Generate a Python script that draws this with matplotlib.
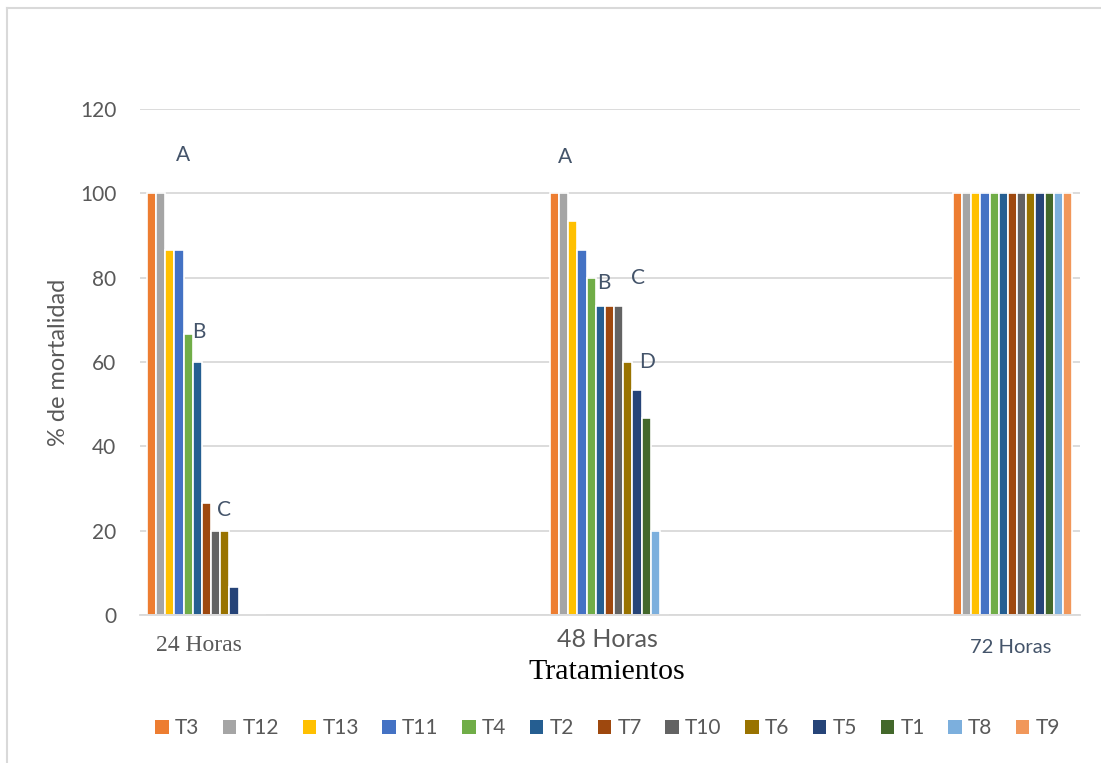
import matplotlib
matplotlib.use("Agg")
import matplotlib.pyplot as plt
from matplotlib.patches import Patch
from matplotlib.lines import Line2D
from matplotlib.transforms import ScaledTranslation
import numpy as np

categories = ["24 Horas", "48 Horas", "72 Horas"]
series = ["T3", "T12", "T13", "T11", "T4", "T2", "T7", "T10", "T6", "T5", "T1", "T8", "T9"]
colors = ["#ED7D31", "#A5A5A5", "#FFC000", "#4472C4", "#70AD47", "#255E91",
          "#9E480E", "#636363", "#997300", "#264478", "#43682B", "#7CAFDD", "#F1975A"]
h24 = [100, 100, 86.67, 86.67, 66.67, 60, 26.67, 20, 20, 6.67, 0, 0, 0]
h48 = [100, 100, 93.33, 86.67, 80, 73.33, 73.33, 73.33, 60, 53.33, 46.67, 20, 0]
h72 = [100] * 13
values = np.array([h24, h48, h72]).T  # series x categories

# significance letters: (category index, x offset in category units, y value, letter)
letters_cat = [0, 0, 0, 1, 1, 1, 1]
letters_dx = [-0.058, -0.019, 0.043, -0.110, -0.014, 0.071, 0.093]
letters_y = [109, 67, 25, 108.6, 78.7, 80, 60]
letters_txt = ["A", "B", "C", "A", "B", "C", "D"]

SANS = ["Lato", "DejaVu Sans"]
SERIF = ["Liberation Serif", "DejaVu Serif"]
GRAY = "#595959"
SLATE = "#44546A"
GRID = "#D9D9D9"

fig = plt.figure(figsize=(11.01, 7.63), dpi=100)
ax = fig.add_axes([140 / 1101, 1 - 615 / 763, (1080 - 140) / 1101, (615 - 109) / 763])

x = np.arange(len(categories))
slot = 9.15 / 403
n = len(series)
for i, (s, c) in enumerate(zip(series, colors)):
    ax.bar(x + (i - (n - 1) / 2) * slot, values[i], width=slot, color=c,
           edgecolor="white", linewidth=1.2, label=s, zorder=2)

ax.set_xlim(-66.5 / 403, 2 + 67.5 / 403)
ax.set_ylim(0, 120)
ax.set_yticks(np.arange(0, 121, 20))
ax.yaxis.grid(True, color=GRID, linewidth=1.3, zorder=0)
ax.set_axisbelow(True)
for sp in ["top", "right", "left"]:
    ax.spines[sp].set_visible(False)
ax.spines["bottom"].set_color(GRID)
ax.spines["bottom"].set_linewidth(1.3)
ax.tick_params(axis="both", length=0)
ax.tick_params(axis="y", pad=17)
for lbl in ax.get_yticklabels():
    lbl.set_fontfamily(SANS)
    lbl.set_fontsize(15)
    lbl.set_color(GRAY)

ax.set_xticks(x)
ax.set_xticklabels(categories)
lab_fam = [SERIF, SANS, SANS]
lab_col = [GRAY, GRAY, SLATE]
lab_size = [17, 18, 14.5]
lab_dx = [-8, -2, -2]
lab_dy = [-1, 6, -5]
ax.tick_params(axis="x", pad=14)
for lbl, fam, col, sz, dx, dy in zip(ax.get_xticklabels(), lab_fam, lab_col, lab_size, lab_dx, lab_dy):
    lbl.set_fontfamily(fam)
    lbl.set_fontsize(sz)
    lbl.set_color(col)
    lbl.set_transform(lbl.get_transform() + ScaledTranslation(dx / 100, dy / 100, fig.dpi_scale_trans))

for ci, dx, yv, t in zip(letters_cat, letters_dx, letters_y, letters_txt):
    ax.text(x[ci] + dx, yv, t, ha="center", va="center", fontsize=15,
            color=SLATE, family=SANS, zorder=3)

ax.set_ylabel("% de mortalidad", fontsize=17, color=GRAY, family=SANS)
ax.yaxis.set_label_coords((69 - 140) / 940, (615 - 362) / 506)
fig.text(607 / 1101, 1 - 672 / 763, "Tratamientos", ha="center", va="center",
         fontsize=21.5, family=SERIF, color="black")

handles = [Patch(facecolor=c, edgecolor="none") for c in colors]
leg = fig.legend(handles, series, loc="center", bbox_to_anchor=(607.5 / 1101, 1 - 728 / 763),
                 ncol=n, frameon=False, handlelength=0.65, handleheight=0.65,
                 handletextpad=0.3, columnspacing=1.13, prop={"family": SANS, "size": 15})
for t in leg.get_texts():
    t.set_color(GRAY)

# chart area border (left and top)
fig.add_artist(Line2D([7 / 1101, 7 / 1101], [0, 1 - 8 / 763], transform=fig.transFigure,
                      color=GRID, linewidth=1.5))
fig.add_artist(Line2D([7 / 1101, 1], [1 - 8 / 763, 1 - 8 / 763], transform=fig.transFigure,
                      color=GRID, linewidth=1.5))

fig.savefig("out.png", dpi=100)
